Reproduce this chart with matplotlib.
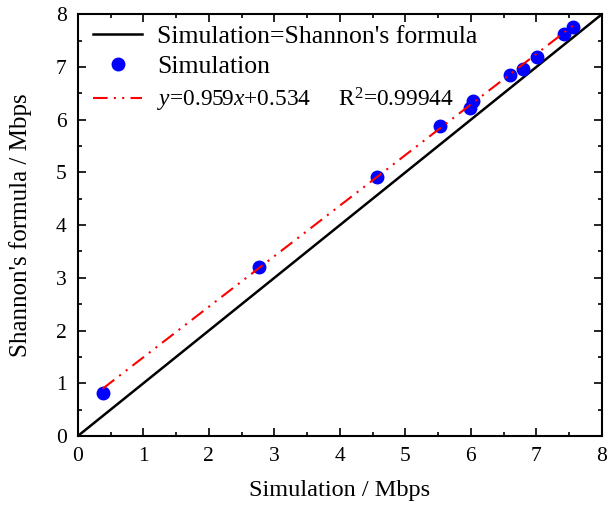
import numpy as np
import matplotlib
matplotlib.use('Agg')
import matplotlib.pyplot as plt
from matplotlib.ticker import MultipleLocator

plt.rcParams['font.family']=['Liberation Serif','DejaVu Serif']
plt.rcParams['mathtext.fontset']='custom'
plt.rcParams['mathtext.rm']='Liberation Serif'
plt.rcParams['mathtext.it']='Liberation Serif:italic'

# simulation vs shannon's formula (Mbps)
sim=[0.38,2.76,4.56,5.53,5.98,6.03,6.60,6.79,7.01,7.42,7.56]
shan=[0.81,3.20,4.91,5.88,6.22,6.36,6.85,6.96,7.19,7.62,7.76]
slope=0.959
icpt=0.534
r2=0.99944

fig=plt.figure(figsize=(6.08,5.07),dpi=100)
ax=fig.add_axes([0.128,0.140,0.862,0.832])

ax.plot([0,8],[0,8],color='k',lw=1.8,label="Simulation=Shannon's formula")
ax.plot(sim,shan,'o',color='#0000ff',ms=9,label='Simulation',zorder=3)
xf=np.array([min(sim),max(sim)])
ax.plot(xf,slope*xf+icpt,color='red',lw=1.5,ls=(0,(7,3,1,3,1,3)),zorder=4,
        label=r'$y$=%.3f$x$+%.3f     R$^2$=%.5f'%(slope,icpt,r2))

ax.set_xlim(0,8)
ax.set_ylim(0,8)
ax.xaxis.set_major_locator(MultipleLocator(1))
ax.yaxis.set_major_locator(MultipleLocator(1))
ax.xaxis.set_minor_locator(MultipleLocator(0.5))
ax.yaxis.set_minor_locator(MultipleLocator(0.5))
ax.tick_params(which='both',direction='in',top=True,right=True,width=1.2)
ax.tick_params(which='major',length=6,labelsize=15.5,pad=8)
ax.tick_params(which='minor',length=3)
for s in ax.spines.values():
    s.set_linewidth(1.5)

ax.set_xlabel('Simulation / Mbps',fontsize=17.5,labelpad=10)
ax.set_ylabel("Shannon's formula / Mbps",fontsize=18,labelpad=17)

leg=ax.legend(loc='upper left',bbox_to_anchor=(0.0,1.012),frameon=False,fontsize=18.5,
              handlelength=1.9,handletextpad=0.6,labelspacing=0.3,borderaxespad=0.2)
leg.get_texts()[2].set_fontsize(16.8)

fig.savefig('out.png',dpi=100)
